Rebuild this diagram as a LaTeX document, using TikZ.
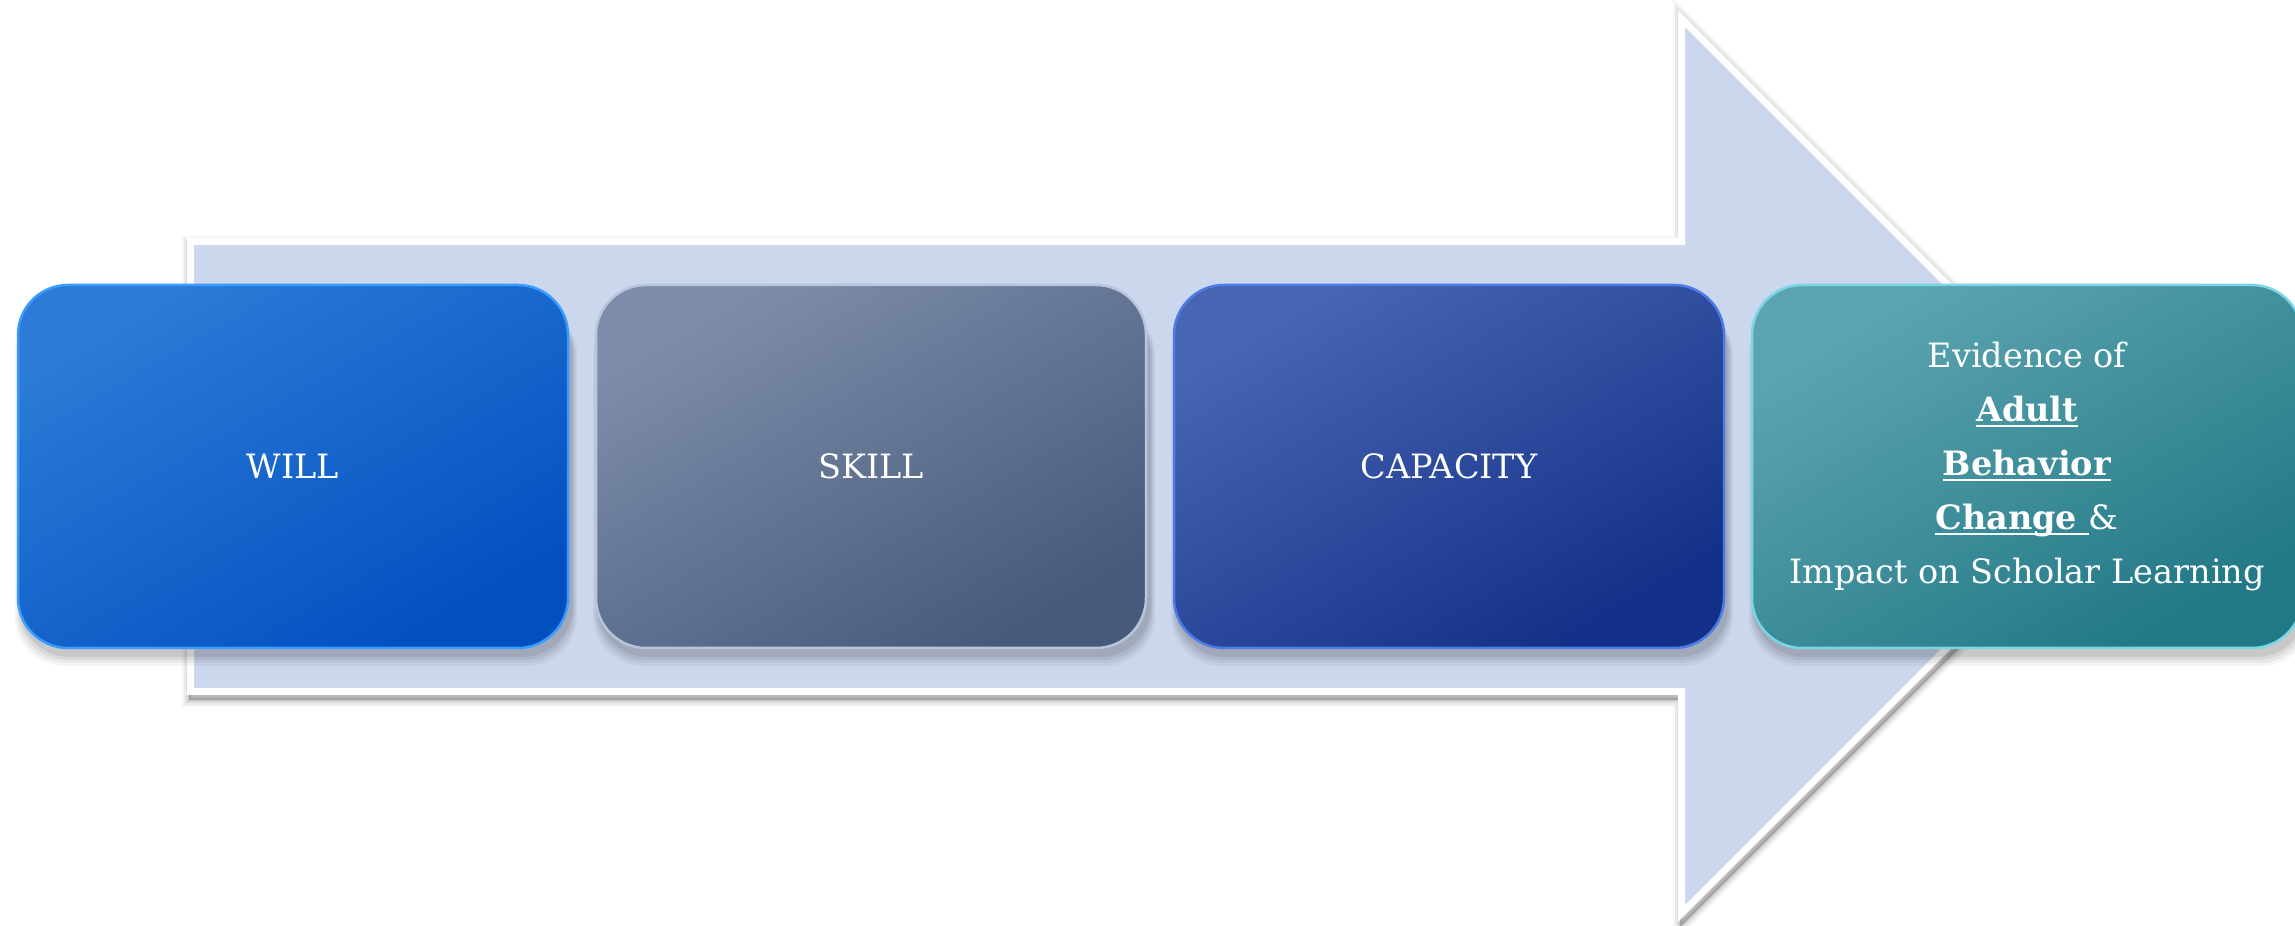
\documentclass[tikz,border=0pt]{standalone}
\usepackage{fontspec}
\setmainfont{DejaVu Serif}
\definecolor{arrowfill}{HTML}{CBD7EC}
\definecolor{willA}{HTML}{2B7BD7}
\definecolor{willB}{HTML}{0250C0}
\definecolor{willE}{HTML}{3A9BFF}
\definecolor{skillA}{HTML}{7D8DA9}
\definecolor{skillB}{HTML}{475A7C}
\definecolor{skillE}{HTML}{B9C5DA}
\definecolor{capA}{HTML}{4765B2}
\definecolor{capB}{HTML}{133088}
\definecolor{capE}{HTML}{4C7BE6}
\definecolor{evA}{HTML}{5CA5B0}
\definecolor{evB}{HTML}{227886}
\definecolor{evE}{HTML}{79D6E6}
\newsavebox\ulbox
\newcommand\myul[1]{\sbox\ulbox{#1}\rlap{\rule[-6pt]{\wd\ulbox}{2.5pt}}\usebox\ulbox}
\tikzset{
  stagebox/.style={rounded corners=50pt, minimum width=550pt, minimum height=363pt,
    line width=2.5pt, text=white, inner sep=0pt,
    font=\fontsize{33.5}{54}\selectfont, align=center},
  arrowshadow/.style={black, line join=miter, fill, opacity=#1},
}
\begin{document}
\begin{tikzpicture}[x=1pt,y=1pt]
\useasboundingbox (0,0) rectangle (2295,926);
\fill[white] (0,0) rectangle (2295,926);
% arrow shadow
\begin{scope}[shift={(2,-5)}]
\foreach \w/\o in {14/0.035,10/0.045,6/0.06,3/0.08}{
  \draw[arrowshadow=\o, line width=\w pt] (187,688) -- (1678,688) -- (1678,916) -- (2134,460) -- (1678,4) -- (1678,231) -- (187,231) -- cycle;
}
\end{scope}
% arrow body
\coordinate (a1) at (190.5,684.5);
\coordinate (a2) at (1681.5,684.5);
\coordinate (a3) at (1681.5,907.5);
\coordinate (a4) at (2129,460);
\coordinate (a5) at (1681.5,12.5);
\coordinate (a6) at (1681.5,234.5);
\coordinate (a7) at (190.5,234.5);
\draw[white, line width=7pt, line join=miter, fill=arrowfill] (a1) -- (a2) -- (a3) -- (a4) -- (a5) -- (a6) -- (a7) -- cycle;
% box shadows (mostly below each box)
\foreach \cx in {293,871,1449,2027}{
  \foreach \g/\o in {12/0.04,9/0.05,6/0.06,3/0.08}{
    \fill[black, opacity=\o, rounded corners=50pt] ({\cx-275-\g/2+3},{278-6-\g}) rectangle ({\cx+275+\g/2+3},{641-20});
  }
}
% boxes
\node[stagebox, draw=willE, top color=willA, bottom color=willB, shading angle=30] (will) at (293,459.5) {WILL};
\node[stagebox, draw=skillE, top color=skillA, bottom color=skillB, shading angle=30] (skill) at (871,459.5) {SKILL};
\node[stagebox, draw=capE, top color=capA, bottom color=capB, shading angle=30] (capacity) at (1449,459.5) {CAPACITY};
\node[stagebox, draw=evE, top color=evA, bottom color=evB, shading angle=30] (evidence) at (2027,459.5)
  {Evidence of\\ \myul{\textbf{Adult}}\\ \myul{\textbf{Behavior}}\\ \myul{\textbf{Change }}\&\\ Impact on Scholar Learning};
\end{tikzpicture}
\end{document}
